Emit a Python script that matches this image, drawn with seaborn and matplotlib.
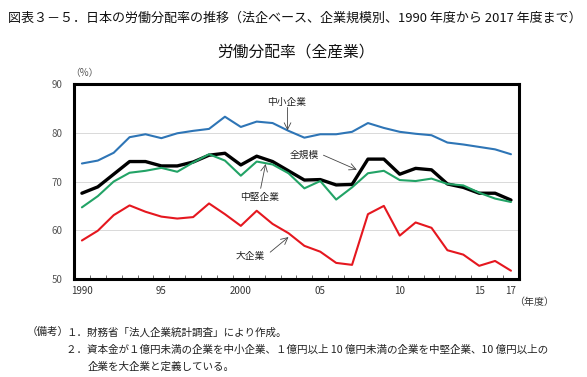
import pandas as pd
import matplotlib.pyplot as plt
import seaborn as sns
from matplotlib.ticker import FixedLocator

# Data (労働分配率, %)
years = list(range(1990, 2018))
chusho = [73.7, 74.3, 75.9, 79.1, 79.7, 78.9, 79.9, 80.4, 80.8, 83.3, 81.2, 82.3, 82.0, 80.4,
          79.0, 79.7, 79.7, 80.2, 82.0, 81.0, 80.2, 79.8, 79.5, 78.0, 77.6, 77.1, 76.6, 75.6]
zenkibo = [67.6, 68.9, 71.5, 74.1, 74.1, 73.2, 73.2, 74.0, 75.4, 75.8, 73.4, 75.2, 74.1, 72.2,
           70.3, 70.4, 69.3, 69.4, 74.6, 74.6, 71.5, 72.7, 72.4, 69.5, 68.8, 67.6, 67.6, 66.2]
chuken = [64.7, 67.0, 70.0, 71.8, 72.2, 72.8, 72.0, 73.9, 75.6, 74.3, 71.2, 74.1, 73.5, 71.7,
          68.6, 70.1, 66.3, 68.8, 71.7, 72.2, 70.3, 70.1, 70.6, 69.5, 69.2, 67.7, 66.5, 65.8]
daikigyo = [57.9, 59.9, 63.1, 65.1, 63.8, 62.8, 62.4, 62.7, 65.5, 63.3, 60.9, 64.0, 61.3, 59.4,
            56.8, 55.6, 53.3, 52.9, 63.3, 65.0, 58.9, 61.6, 60.5, 55.9, 55.0, 52.7, 53.7, 51.7]

tick_years = [1990, 1995, 2000, 2005, 2010, 2015, 2017]
tick_labels = ["1990", "95", "2000", "05", "10", "15", "17"]

series = {"中小企業": chusho, "全規模": zenkibo, "中堅企業": chuken, "大企業": daikigyo}
colors = {"中小企業": "#2E75B6", "全規模": "#000000", "中堅企業": "#22A366", "大企業": "#E5171F"}
widths = {"中小企業": 1.5, "全規模": 2.4, "中堅企業": 1.5, "大企業": 1.5}

df = pd.DataFrame({"year": years, **series}).melt(id_vars="year", var_name="size", value_name="rate")

sns.set_theme(style="white")
plt.rcParams['font.family'] = ['Noto Sans CJK JP', 'DejaVu Sans']

fig = plt.figure(figsize=(5.87, 3.77), dpi=100)
ax = fig.add_axes([0.126, 0.260, 0.758, 0.517])

for name in series:
    sub = df[df["size"] == name]
    sns.lineplot(data=sub, x="year", y="rate", color=colors[name], lw=widths[name], ax=ax,
                 legend=False)

ax.set_xlim(1989.5, 2017.5)
ax.set_ylim(50, 90)
ax.set_yticks([50, 60, 70, 80, 90])
ax.set_xticks(tick_years)
ax.set_xticklabels(tick_labels)
ax.xaxis.set_minor_locator(FixedLocator([y + 0.5 for y in years[:-1]]))
ax.tick_params(axis="x", which="major", length=0, labelsize=7, colors="#333333", pad=5)
ax.tick_params(axis="x", which="minor", length=3, width=0.6, direction="in", bottom=True, color="#555555")
ax.tick_params(axis="y", length=0, labelsize=7, colors="#555555", pad=8)
ax.set_xlabel("")
ax.set_ylabel("")
ax.grid(axis="y", color="#D9D9D9", lw=0.7)
ax.set_axisbelow(True)
for s in ax.spines.values():
    s.set_color("black")
    s.set_linewidth(2.2)

# labels with arrows
lab_kw = dict(fontsize=7, ha="center", va="center", color="#222222")
arr = dict(arrowstyle="->", color="#444444", lw=0.6, shrinkA=0, shrinkB=0)
ax.text(2002.9, 86.3, "中小企業", **lab_kw)
ax.annotate("", xy=(2002.94, 80.5), xytext=(2002.94, 85.2), arrowprops=arr)
ax.text(2004.0, 75.4, "全規模", **lab_kw)
ax.annotate("", xy=(2007.3, 72.4), xytext=(2005.2, 75.4), arrowprops=arr)
ax.text(2001.2, 66.8, "中堅企業", **lab_kw)
ax.annotate("", xy=(2001.56, 73.6), xytext=(2001.25, 68.6), arrowprops=arr)
ax.text(2000.6, 54.7, "大企業", **lab_kw)
ax.annotate("", xy=(2003.0, 58.6), xytext=(2001.85, 55.5), arrowprops=arr)

fig.text(0.143, 0.806, "（%）", fontsize=7, ha="center", va="center", color="#555555")
fig.text(0.910, 0.199, "（年度）", fontsize=7.2, ha="center", va="center", color="#333333")

fig.text(0.503, 0.952, "図表３－５．日本の労働分配率の推移（法企ベース、企業規模別、1990 年度から 2017 年度まで）",
         fontsize=9.4, ha="center", va="center", color="#111111")
fig.text(0.504, 0.862, "労働分配率（全産業）", fontsize=11.3, ha="center", va="center", color="#111111")

note_kw = dict(fontsize=7.6, ha="left", va="center", color="#222222")
fig.text(0.046, 0.119, "（備考）", **note_kw)
fig.text(0.113, 0.119, "１．財務省「法人企業統計調査」により作成。", **note_kw)
fig.text(0.113, 0.072, "２．資本金が１億円未満の企業を中小企業、１億円以上 10 億円未満の企業を中堅企業、10 億円以上の", **note_kw)
fig.text(0.150, 0.027, "企業を大企業と定義している。", **note_kw)

fig.savefig("out.png", dpi=100, facecolor="white")
